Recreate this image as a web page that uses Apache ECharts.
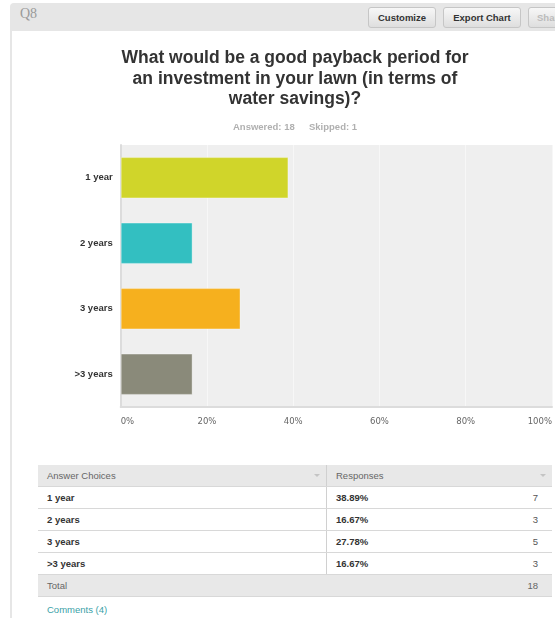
<!DOCTYPE html>
<html>
<head>
<meta charset="utf-8">
<script src="https://cdn.jsdelivr.net/npm/echarts@6/dist/echarts.min.js"></script>
<style>
  html, body { margin: 0; padding: 0; background: #fff; overflow: hidden; width: 555px; height: 618px; }
  body { position: relative; font-family: "Liberation Sans", Arial, sans-serif; }
  .frame { position: absolute; left: 10px; top: 3px; width: 600px; height: 660px; background: #e6e6e6; border-radius: 4px 0 0 0; }
  .panel { position: absolute; left: 12px; top: 31px; width: 600px; height: 640px; background: #fff; }
  .qnum { position: absolute; left: 20px; top: 6px; font-family: "Liberation Serif", serif; font-size: 14px; color: #9a9a9a; }
  .btn { position: absolute; top: 7px; height: 19px; line-height: 19px; border: 1px solid #c6c6c6; border-radius: 3px;
         background: linear-gradient(#f7f7f7, #dedede); font-size: 9.5px; font-weight: bold; color: #333; text-align: center; box-sizing: content-box; }
  .btn.off { color: #bbb; }
  #chart { position: absolute; left: 0; top: 0; width: 590px; height: 450px; }
  table.resp { position: absolute; left: 38px; top: 465px; width: 514px; border-collapse: collapse; font-size: 9.5px; }
  table.resp td { height: 21px; padding: 0 0 0 9px; border-bottom: 1px solid #d8d8d8; color: #333; font-weight: bold; }
  table.resp tr.head td, table.resp tr.total td { background: #e8e8e8; font-weight: normal; color: #666; }
  table.resp td.c1 { width: 279px; border-right: 1px solid #d0d0d0; position: relative; }
  table.resp td.num { text-align: right; padding-right: 14px; font-weight: normal; color: #555; }
  table.resp tr.total td { border-right: none; }
  .caret { position: absolute; right: 6px; top: 9px; width: 0; height: 0; border-left: 3px solid transparent; border-right: 3px solid transparent; border-top: 3px solid #c4c4c4; }
  .comments { position: absolute; left: 47px; top: 604px; font-size: 9.5px; color: #3a9fa8; }
</style>
</head>
<body>
<div class="frame"></div>
<div class="panel"></div>
<div class="qnum">Q8</div>
<div class="btn" style="left:368px;width:66px;">Customize</div>
<div class="btn" style="left:443px;width:76px;">Export Chart</div>
<div class="btn off" style="left:528px;width:60px;text-align:left;padding-left:8px;">Share</div>
<div id="chart"></div>
<table class="resp" id="resp"></table>
<div class="comments">Comments (4)</div>
<script>
// Answer choices and survey results
const categories = ['1 year', '2 years', '3 years', '>3 years'];
const percents = [38.89, 16.67, 27.78, 16.67];
const counts = [7, 3, 5, 3];
const totalAnswered = 18;
const skipped = 1;
const tickValues = [0, 20, 40, 60, 80, 100];
const barColors = ['#d0d52a', '#33bfc1', '#f6b01e', '#8a8a7a'];

const chart = echarts.init(document.getElementById('chart'), null, { renderer: 'canvas' });
chart.setOption({
  animation: false,
  title: [
    {
      text: 'What would be a good payback period for\nan investment in your lawn (in terms of\nwater savings)?',
      left: 'center', top: 43,
      textStyle: { fontFamily: 'Liberation Sans', fontSize: 17.5, fontWeight: 'bold', color: '#333', lineHeight: 20.5 }
    },
    {
      text: 'Answered: ' + totalAnswered + '\u2003\u2002Skipped: ' + skipped,
      left: 'center', top: 117,
      textStyle: { fontFamily: 'Liberation Sans', fontSize: 9.5, fontWeight: 'bold', color: '#b0b0b0', lineHeight: 11 }
    }
  ],
  grid: { left: 120.7, right: 38, top: 145, height: 262, show: true, backgroundColor: '#efefef', borderWidth: 0, containLabel: false },
  xAxis: {
    type: 'value', min: tickValues[0], max: tickValues[tickValues.length - 1], interval: 20,
    axisLine: { show: true, lineStyle: { color: '#dcdcdc', width: 2 } },
    axisTick: { show: false },
    splitLine: { show: true, lineStyle: { color: '#f7f7f7', width: 1 } },
    axisLabel: {
      formatter: '{value}%', margin: 10, color: '#666',
      fontFamily: 'DejaVu Sans', fontSize: 8.5,
      alignMinLabel: 'left', alignMaxLabel: 'right'
    }
  },
  yAxis: {
    type: 'category', inverse: true, data: categories,
    axisLine: { show: true, lineStyle: { color: '#dcdcdc', width: 2 } },
    axisTick: { show: false },
    axisLabel: { margin: 8, color: '#333', fontFamily: 'Liberation Sans', fontSize: 9.5, fontWeight: 'bold' }
  },
  series: [{
    type: 'bar',
    barCategoryGap: '37%',
    data: percents.map((v, i) => ({ value: v, itemStyle: { color: barColors[i] } })),
    itemStyle: { borderColor: 'rgba(255,255,255,0.35)', borderWidth: 1 }
  }]
});

// Response table built from the same arrays
const tbl = document.getElementById('resp');
let html = '<tr class="head"><td class="c1">Answer Choices<span class="caret"></span></td>' +
           '<td colspan="2" style="position:relative">Responses<span class="caret"></span></td></tr>';
categories.forEach((c, i) => {
  html += '<tr><td class="c1">' + c.replace('>', '&gt;') + '</td><td>' + percents[i].toFixed(2) + '%</td>' +
          '<td class="num">' + counts[i] + '</td></tr>';
});
html += '<tr class="total"><td style="border-right:none">Total</td><td></td><td class="num">' + totalAnswered + '</td></tr>';
tbl.innerHTML = html;
</script>
</body>
</html>
